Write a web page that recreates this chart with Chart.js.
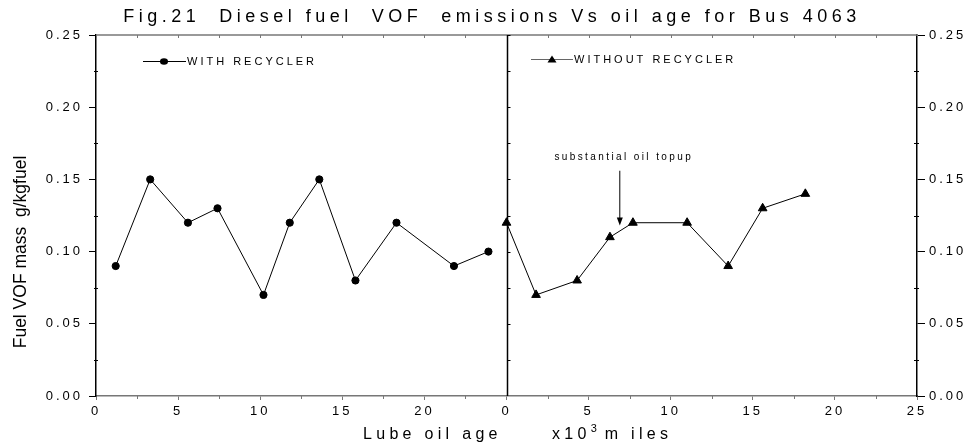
<!DOCTYPE html>
<html>
<head>
<meta charset="utf-8">
<script src="https://cdn.jsdelivr.net/npm/chart.js@4"></script>
<style>
  html, body { margin: 0; padding: 0; background: #fff; }
  #wrap { width: 968px; height: 448px; position: relative; }
</style>
</head>
<body>
<div id="wrap"><canvas id="vofChart"></canvas></div>
<script>
const recyclerAge = [1.2, 3.3, 5.6, 7.4, 10.2, 11.8, 13.6, 15.8, 18.3, 21.8, 23.9];
const recyclerVOF = [0.09, 0.15, 0.12, 0.13, 0.07, 0.12, 0.15, 0.08, 0.12, 0.09, 0.10];
const noRecyclerAge = [0, 1.8, 4.3, 6.3, 7.7, 11.0, 13.5, 15.6, 18.2];
const noRecyclerVOF = [0.12, 0.07, 0.08, 0.11, 0.12, 0.12, 0.09, 0.13, 0.14];

// second panel sits after the first one on the same axis
const PANEL_OFFSET = 25;
const X_MAX = 50;
const Y_TICKS = [0, 0.05, 0.10, 0.15, 0.20, 0.25];
const topupAge = 6.9;  // arrow "substantial oil topup"

const FONT = "'Liberation Sans', Arial, sans-serif";

function toPoints(xs, ys, off) {
  return xs.map((x, i) => ({ x: x + off, y: ys[i] }));
}

// axes decoration, texts, legend, arrow
const decor = {
  id: 'decor',
  beforeDraw(chart) {
    chart.ctx.letterSpacing = '3px';
  },
  afterDraw(chart) {
    const ctx = chart.ctx;
    const a = chart.chartArea;
    const xs = chart.scales.x, ys = chart.scales.y;
    ctx.save();

    // top border, gray with small inward ticks
    ctx.strokeStyle = '#777';
    ctx.lineWidth = 1.5;
    ctx.beginPath();
    ctx.moveTo(a.left, a.top); ctx.lineTo(a.right, a.top);
    ctx.stroke();
    ctx.lineWidth = 1;
    for (let v = 0; v <= X_MAX; v += 2.5) {
      const px = Math.round(xs.getPixelForValue(v)) + 0.5;
      ctx.beginPath();
      ctx.moveTo(px, a.top); ctx.lineTo(px, a.top + 3);
      ctx.stroke();
      // minor ticks at the bottom
      if (v % 5 !== 0) {
        ctx.beginPath();
        ctx.moveTo(px, a.bottom); ctx.lineTo(px, a.bottom + 3);
        ctx.stroke();
      }
    }

    // divider between the two panels
    const dx = Math.round(xs.getPixelForValue(PANEL_OFFSET)) + 0.5;
    ctx.strokeStyle = '#000';
    ctx.lineWidth = 1.5;
    ctx.beginPath();
    ctx.moveTo(dx, a.top); ctx.lineTo(dx, a.bottom);
    ctx.stroke();
    ctx.lineWidth = 1;
    for (let v = 0.025; v < 0.25; v += 0.025) {
      const py = Math.round(ys.getPixelForValue(v)) + 0.5;
      ctx.beginPath(); ctx.moveTo(dx, py); ctx.lineTo(dx + 3, py); ctx.stroke();
      if (Math.abs(v / 0.05 - Math.round(v / 0.05)) > 0.01) {
        ctx.beginPath(); ctx.moveTo(a.left - 2, py); ctx.lineTo(a.left + 2, py); ctx.stroke();
        ctx.beginPath(); ctx.moveTo(a.right - 3, py); ctx.lineTo(a.right + 2, py); ctx.stroke();
      }
    }

    ctx.fillStyle = '#000';
    ctx.textBaseline = 'alphabetic';

    // title
    ctx.font = '18px ' + FONT;
    ctx.letterSpacing = '4.5px';
    ctx.textAlign = 'center';
    ctx.fillText('Fig.21  Diesel fuel  VOF  emissions Vs oil age for Bus 4063', 492, 22);

    // x axis title
    ctx.font = '16px ' + FONT;
    ctx.letterSpacing = '4.3px';
    ctx.textAlign = 'left';
    ctx.fillText('Lube oil age', 363, 439);
    ctx.fillText('x10', 552, 439);
    const w = ctx.measureText('x10').width;
    ctx.font = '11px ' + FONT;
    ctx.fillText('3', 552 + w, 432);
    ctx.font = '16px ' + FONT;
    ctx.fillText('m iles', 552 + w + 14, 439);

    // y axis title
    ctx.save();
    ctx.font = '17.5px ' + FONT;
    ctx.letterSpacing = '0px';
    ctx.translate(26, 252);
    ctx.rotate(-Math.PI / 2);
    ctx.textAlign = 'center';
    ctx.fillText('Fuel VOF mass  g/kgfuel', 0, 0);
    ctx.restore();

    // legends
    ctx.font = '11px ' + FONT;
    ctx.letterSpacing = '3px';
    ctx.strokeStyle = '#000';
    ctx.lineWidth = 1;
    ctx.beginPath(); ctx.moveTo(143, 61.5); ctx.lineTo(186, 61.5); ctx.stroke();
    ctx.beginPath(); ctx.ellipse(164, 61.5, 4, 3.2, 0, 0, Math.PI * 2); ctx.fill();
    ctx.textBaseline = 'middle';
    ctx.fillText('WITH RECYCLER', 187, 62);

    ctx.strokeStyle = '#666';
    ctx.beginPath(); ctx.moveTo(531, 59.5); ctx.lineTo(573, 59.5); ctx.stroke();
    ctx.beginPath();
    ctx.moveTo(552, 55.5); ctx.lineTo(556.5, 62.5); ctx.lineTo(547.5, 62.5); ctx.closePath();
    ctx.fill();
    ctx.fillText('WITHOUT RECYCLER', 574, 60);

    // annotation with arrow
    const ax = xs.getPixelForValue(topupAge + PANEL_OFFSET);
    const aTop = ys.getPixelForValue(0.156);
    const aTip = ys.getPixelForValue(0.118);
    ctx.font = '10px ' + FONT;
    ctx.letterSpacing = '2.4px';
    ctx.textAlign = 'center';
    ctx.fillText('substantial oil topup', ax + 4, aTop - 13);
    ctx.strokeStyle = '#000';
    ctx.beginPath(); ctx.moveTo(ax, aTop); ctx.lineTo(ax, aTip - 6); ctx.stroke();
    ctx.beginPath();
    ctx.moveTo(ax, aTip); ctx.lineTo(ax - 3, aTip - 8); ctx.lineTo(ax + 3, aTip - 8); ctx.closePath();
    ctx.fill();

    ctx.restore();
  }
};

const yAxisBase = {
  min: 0,
  max: 0.25,
  afterBuildTicks(scale) { scale.ticks = Y_TICKS.map(v => ({ value: v })); },
  ticks: {
    callback: v => Number(v).toFixed(2),
    color: '#000',
    font: { family: FONT, size: 13 },
    padding: 6
  },
  grid: { drawOnChartArea: false, tickLength: 7, color: '#000' },
  border: { color: '#000', width: 1.5 }
};

new Chart(document.getElementById('vofChart'), {
  type: 'scatter',
  data: {
    datasets: [
      {
        label: 'WITH RECYCLER',
        data: toPoints(recyclerAge, recyclerVOF, 0),
        showLine: true,
        borderColor: '#000',
        borderWidth: 1,
        backgroundColor: '#000',
        pointStyle: 'circle',
        pointRadius: 3.6,
        yAxisID: 'y'
      },
      {
        label: 'WITHOUT RECYCLER',
        data: toPoints(noRecyclerAge, noRecyclerVOF, PANEL_OFFSET),
        showLine: true,
        borderColor: '#000',
        borderWidth: 1,
        backgroundColor: '#000',
        pointStyle: 'triangle',
        pointRadius: 5,
        yAxisID: 'y'
      }
    ]
  },
  options: {
    responsive: true,
    maintainAspectRatio: false,
    animation: false,
    events: [],
    layout: { padding: { top: 35, left: 0, right: 0, bottom: 0 } },
    plugins: {
      legend: { display: false },
      tooltip: { enabled: false }
    },
    scales: {
      x: {
        type: 'linear',
        min: 0,
        max: X_MAX,
        afterFit(scale) { scale.height = 52; },
        ticks: {
          stepSize: 5,
          autoSkip: false,
          maxRotation: 0,
          callback: v => (v < PANEL_OFFSET ? v : v - PANEL_OFFSET),
          color: '#000',
          font: { family: FONT, size: 13 },
          padding: 4
        },
        grid: { drawOnChartArea: false, tickLength: 4, color: '#777' },
        border: { color: '#777', width: 1.5 }
      },
      y: Object.assign({}, yAxisBase, {
        position: 'left',
        afterFit(scale) { scale.width = 96; }
      }),
      y2: Object.assign({}, yAxisBase, {
        position: 'right',
        afterFit(scale) { scale.width = 51; },
        grid: { drawOnChartArea: false, tickLength: 8, color: '#000' },
        ticks: Object.assign({}, yAxisBase.ticks, { padding: 4 })
      })
    }
  },
  plugins: [decor]
});
</script>
</body>
</html>
